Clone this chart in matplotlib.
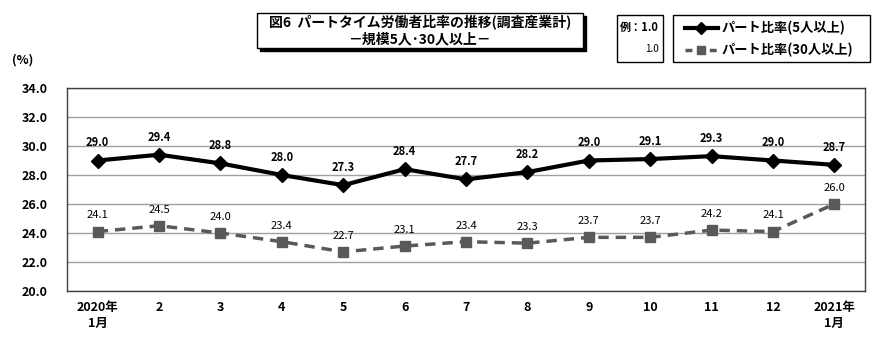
import matplotlib.pyplot as plt
import matplotlib.patches as patches
from matplotlib.lines import Line2D

plt.rcParams['font.family'] = ['Noto Sans CJK JP', 'DejaVu Sans']

months = ['2020年\n1月', '2', '3', '4', '5', '6', '7', '8', '9', '10', '11', '12', '2021年\n1月']
part5 = [29.0, 29.4, 28.8, 28.0, 27.3, 28.4, 27.7, 28.2, 29.0, 29.1, 29.3, 29.0, 28.7]
part30 = [24.1, 24.5, 24.0, 23.4, 22.7, 23.1, 23.4, 23.3, 23.7, 23.7, 24.2, 24.1, 26.0]
yticks = [20.0, 22.0, 24.0, 26.0, 28.0, 30.0, 32.0, 34.0]

W, H = 890, 354
fig = plt.figure(figsize=(W / 100, H / 100), dpi=100)
ax = fig.add_axes([67 / W, 1 - 291 / H, (865 - 67) / W, (291 - 88) / H])

x = list(range(len(months)))
ax.plot(x, part30, color='#595959', lw=2.5, ls=(0, (3, 2)), marker='s', ms=7,
        mfc='#595959', mec='#595959', zorder=3)
ax.plot(x, part5, color='black', lw=3, marker='D', ms=7, zorder=4)

for i, v in enumerate(part5):
    ax.annotate(f'{v:.1f}', (i, v), xytext=(0, 8), textcoords='offset points',
                ha='center', va='bottom', fontsize=8, fontweight='bold')
for i, v in enumerate(part30):
    ax.annotate(f'{v:.1f}', (i, v), xytext=(0, 8), textcoords='offset points',
                ha='center', va='bottom', fontsize=8)

ax.set_xlim(-0.5, len(months) - 0.5)
ax.set_ylim(20, 34)
ax.set_yticks(yticks)
ax.set_yticklabels([f'{t:.1f}' for t in yticks], fontsize=9, fontweight='bold')
ax.set_xticks(x)
ax.set_xticklabels(months, fontsize=9, fontweight='bold', linespacing=1.3)
ax.tick_params(length=0, pad=7)
ax.tick_params(axis='y', pad=14)
ax.grid(axis='y', color='#a0a0a0', lw=1)
ax.set_axisbelow(True)
for s in ax.spines.values():
    s.set_color('#404040')
    s.set_linewidth(1)

fig.text(12 / W, 1 - 60 / H, '(%)', fontsize=9, fontweight='bold', va='center')

# title box with shadow
tx0, ty0, tx1, ty1 = 257, 13, 583, 48
fig.patches.append(patches.Rectangle((tx0 / W + 3 / W, 1 - ty1 / H - 3 / H),
                                     (tx1 - tx0) / W, (ty1 - ty0) / H,
                                     transform=fig.transFigure, fc='black', ec='black'))
fig.patches.append(patches.Rectangle((tx0 / W, 1 - ty1 / H), (tx1 - tx0) / W, (ty1 - ty0) / H,
                                     transform=fig.transFigure, fc='white', ec='black', lw=1))
fig.text((tx0 + tx1) / 2 / W, 1 - 22 / H, '図6  パートタイム労働者比率の推移(調査産業計)',
         ha='center', va='center', fontsize=10, fontweight='bold')
fig.text((tx0 + tx1) / 2 / W, 1 - 39 / H, '－規模5人･30人以上－',
         ha='center', va='center', fontsize=10, fontweight='bold')

# example box
fig.patches.append(patches.Rectangle((617 / W, 1 - 62 / H), 46 / W, 47 / H,
                                     transform=fig.transFigure, fc='white', ec='black', lw=1))
fig.text(620 / W, 1 - 27 / H, '例：1.0', fontsize=8, fontweight='bold', va='center')
fig.text(659 / W, 1 - 49 / H, '1.0', fontsize=7, ha='right', va='center')

# legend box
fig.patches.append(patches.Rectangle((673 / W, 1 - 62 / H), 197 / W, 47 / H,
                                     transform=fig.transFigure, fc='white', ec='black', lw=1))
fig.lines.append(Line2D([685 / W, 718 / W], [1 - 28 / H, 1 - 28 / H], transform=fig.transFigure,
                        color='black', lw=3))
fig.lines.append(Line2D([701 / W], [1 - 28 / H], transform=fig.transFigure, color='black',
                        marker='D', ms=6))
fig.lines.append(Line2D([685 / W, 718 / W], [1 - 50 / H, 1 - 50 / H], transform=fig.transFigure,
                        color='#595959', lw=2.5, ls=(0, (2, 1.5))))
fig.lines.append(Line2D([701 / W], [1 - 50 / H], transform=fig.transFigure, color='#595959',
                        marker='s', ms=6))
fig.text(722 / W, 1 - 28 / H, 'パート比率(5人以上)', fontsize=9.5, fontweight='bold', va='center')
fig.text(722 / W, 1 - 50 / H, 'パート比率(30人以上)', fontsize=9.5, fontweight='bold', va='center')

fig.savefig('out.png', dpi=100)
